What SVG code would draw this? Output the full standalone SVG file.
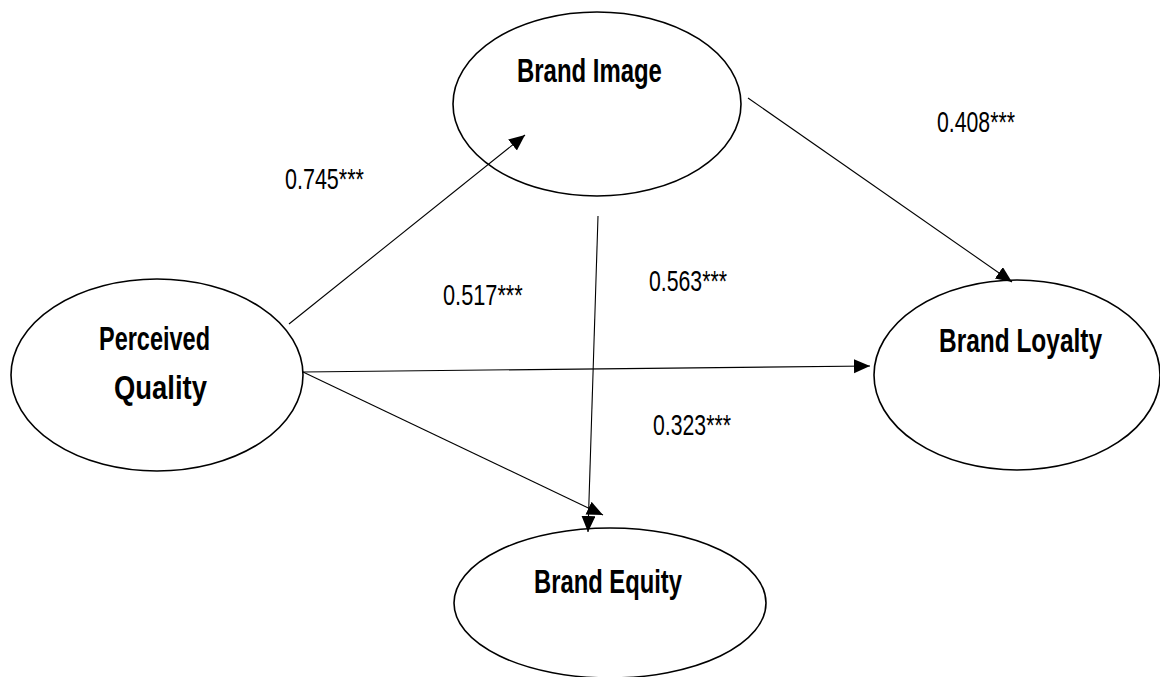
<svg xmlns="http://www.w3.org/2000/svg" width="1160" height="677" viewBox="0 0 1160 677">
<style>
.node{fill:none;stroke:#000;stroke-width:1.6}
.edge{stroke:#000;stroke-width:1.1;fill:none;marker-end:url(#ah)}
.lbl{font-family:"Liberation Sans",Arial,sans-serif;font-weight:bold;font-size:34px;fill:#000}
.coef{font-family:"Liberation Sans",Arial,sans-serif;font-size:29px;fill:#000}
</style>
<defs>
<marker id="ah" markerUnits="userSpaceOnUse" markerWidth="17" markerHeight="15" refX="16" refY="7" orient="auto">
<path d="M0,0 L16,7 L0,14 z" fill="#000"/>
</marker>
</defs>
<rect width="1160" height="677" fill="#fff"/>
<g id="connectors">
<line class="edge" x1="289" y1="324" x2="525" y2="135"/>
<line class="edge" x1="748" y1="98" x2="1012" y2="282"/>
<line class="edge" x1="303" y1="372" x2="870" y2="366"/>
<line class="edge" x1="303" y1="372" x2="603" y2="515"/>
<line class="edge" x1="598" y1="216" x2="588" y2="532"/>
</g>
<g id="node-brand-image">
<ellipse class="node" cx="597" cy="104" rx="144" ry="92"/>
<text class="lbl" transform="translate(517,82) scale(0.704,1)">Brand Image</text>
</g>
<g id="node-perceived-quality">
<ellipse class="node" cx="157" cy="375" rx="146" ry="96"/>
<text class="lbl" transform="translate(99,350) scale(0.691,1)">Perceived</text>
<text class="lbl" transform="translate(114,399) scale(0.807,1)">Quality</text>
</g>
<g id="node-brand-loyalty">
<ellipse class="node" cx="1017" cy="375" rx="143" ry="95"/>
<text class="lbl" transform="translate(939,352) scale(0.719,1)">Brand Loyalty</text>
</g>
<g id="node-brand-equity">
<ellipse class="node" cx="610" cy="603" rx="156" ry="75"/>
<text class="lbl" transform="translate(534,593) scale(0.70,1)">Brand Equity</text>
</g>
<g id="labels">
<text class="coef" transform="translate(285,189) scale(0.742,1)">0.745***</text>
<text class="coef" transform="translate(443,305) scale(0.75,1)">0.517***</text>
<text class="coef" transform="translate(649,291) scale(0.733,1)">0.563***</text>
<text class="coef" transform="translate(653,435) scale(0.733,1)">0.323***</text>
<text class="coef" transform="translate(937,132) scale(0.733,1)">0.408***</text>
</g>
</svg>
